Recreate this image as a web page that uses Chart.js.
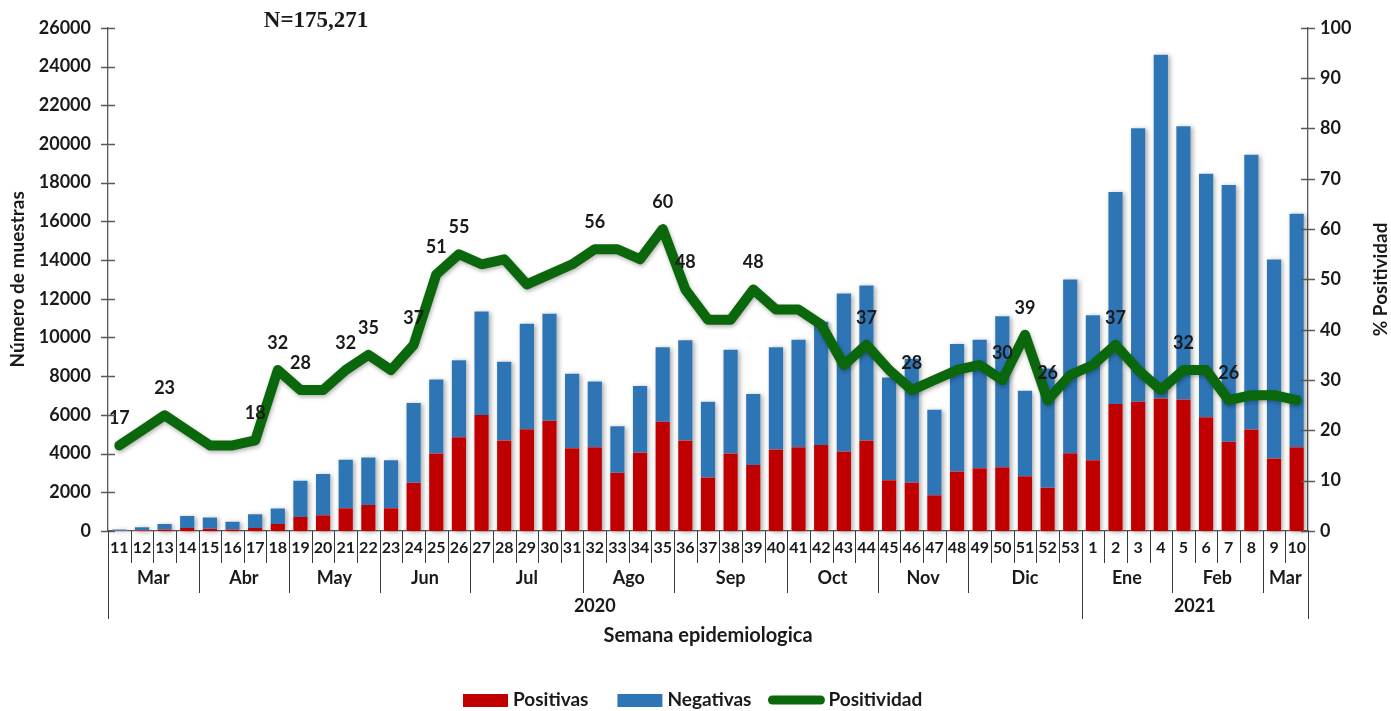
<!DOCTYPE html>
<html>
<head>
<meta charset="utf-8">
<script src="https://cdn.jsdelivr.net/npm/chart.js@4.4.1/dist/chart.umd.min.js"></script>
<style>
  html, body { margin: 0; padding: 0; background: #ffffff; }
  #wrap { width: 1391px; height: 711px; }
</style>
</head>
<body>
<div id="wrap"><canvas id="grafico" width="1391" height="711"></canvas></div>
<script>
// Semanas epidemiologicas (2020: 11-53, 2021: 1-10)
const semanas = ['11','12','13','14','15','16','17','18','19','20','21','22','23','24','25','26','27','28','29','30',
  '31','32','33','34','35','36','37','38','39','40','41','42','43','44','45','46','47','48','49','50','51','52','53',
  '1','2','3','4','5','6','7','8','9','10'];

const positivas = [14, 40, 83, 154, 119, 82, 160, 360, 720, 820, 1180, 1340, 1180, 2490, 4000, 4850, 6000, 4680, 5260, 5700,
  4270, 4330, 3010, 4040, 5650, 4680, 2770, 4000, 3410, 4210, 4330, 4450, 4110, 4680, 2620, 2500, 1850, 3080, 3240, 3290,
  2830, 2240, 4020, 3650, 6560, 6680, 6850, 6800, 5880, 4610, 5240, 3740, 4330];

const negativas = [66, 160, 277, 616, 581, 398, 710, 800, 1880, 2120, 2500, 2460, 2470, 4120, 3830, 3970, 5340, 4070, 5450, 5520,
  3850, 3390, 2400, 3450, 3840, 5170, 3910, 5370, 3670, 5280, 5550, 6360, 8160, 8000, 5310, 6400, 4420, 6580, 6640, 7810,
  4420, 6160, 8970, 7500, 10960, 14130, 17760, 14110, 12580, 13270, 14200, 10290, 12060];

const positividad = [17, 20, 23, 20, 17, 17, 18, 32, 28, 28, 32, 35, 32, 37, 51, 55, 53, 54, 49, 51,
  53, 56, 56, 54, 60, 48, 42, 42, 48, 44, 44, 41, 33, 37, 32, 28, 30, 32, 33, 30,
  39, 26, 31, 33, 37, 32, 28, 32, 32, 26, 27, 27, 26];

// indices de los puntos con etiqueta de % positividad
const conEtiqueta = [0, 2, 6, 7, 8, 10, 11, 13, 14, 15, 21, 24, 25, 28, 33, 35, 39, 40, 41, 44, 47, 49];

const meses = ['Mar','Abr','May','Jun','Jul','Ago','Sep','Oct','Nov','Dic','Ene','Feb','Mar'];
const semanasPorMes = [4, 4, 4, 4, 5, 4, 5, 4, 4, 5, 4, 4, 2];
const anios = ['2020', '2021'];
const semanasPorAnio = [43, 10];

const ticksIzq = [0, 2000, 4000, 6000, 8000, 10000, 12000, 14000, 16000, 18000, 20000, 22000, 24000, 26000];
const ticksDer = [0, 10, 20, 30, 40, 50, 60, 70, 80, 90, 100];

const ROJO = '#c00000';
const AZUL = '#2e75b6';
const VERDE = '#0b670b';
const TEXTO = '#1a1a1a';
const EJE = '#595959';
const FUENTE = 'Lato, "Open Sans", sans-serif';

// sombra gris detras de cada columna
const sombraBarras = {
  id: 'sombraBarras',
  beforeDatasetsDraw(chart) {
    const ctx = chart.ctx;
    const rojo = chart.getDatasetMeta(0).data;
    const azul = chart.getDatasetMeta(1).data;
    ctx.save();
    ctx.shadowColor = 'rgba(0,0,0,0.35)';
    ctx.shadowBlur = 5;
    ctx.shadowOffsetX = 2;
    ctx.shadowOffsetY = 1;
    ctx.fillStyle = '#ffffff';
    azul.forEach((b, i) => {
      const base = rojo[i].base;
      ctx.fillRect(b.x - b.width / 2, b.y, b.width, base - b.y);
    });
    ctx.restore();
  },
  beforeDatasetDraw(chart, args) {
    if (args.index !== 2) return;
    const ctx = chart.ctx;
    ctx.save();
    ctx.shadowColor = 'rgba(0,0,0,0.3)';
    ctx.shadowBlur = 4;
    ctx.shadowOffsetX = 1;
    ctx.shadowOffsetY = 2;
  },
  afterDatasetDraw(chart, args) {
    if (args.index !== 2) return;
    chart.ctx.restore();
  }
};

// etiquetas, ticks cruzados, eje de categorias en 3 niveles, titulos y leyenda
const decoracion = {
  id: 'decoracion',
  afterDatasetsDraw(chart) {
    const ctx = chart.ctx;
    const linea = chart.getDatasetMeta(2).data;
    ctx.save();
    ctx.fillStyle = TEXTO;
    ctx.font = 'bold 18px ' + FUENTE;
    ctx.textAlign = 'center';
    ctx.textBaseline = 'middle';
    conEtiqueta.forEach(i => {
      const p = linea[i];
      ctx.fillText(String(positividad[i]), p.x, p.y - 27);
    });
    ctx.restore();
  },
  afterDraw(chart) {
    const ctx = chart.ctx;
    const ca = chart.chartArea;
    const { x, y, y1 } = chart.scales;
    ctx.save();

    // ticks que cruzan los ejes
    ctx.strokeStyle = EJE;
    ctx.lineWidth = 1.3;
    ctx.beginPath();
    ticksIzq.forEach(v => {
      const py = Math.round(y.getPixelForValue(v)) + 0.5;
      ctx.moveTo(ca.left - 7, py); ctx.lineTo(ca.left + 7, py);
    });
    ticksDer.forEach(v => {
      const py = Math.round(y1.getPixelForValue(v)) + 0.5;
      ctx.moveTo(ca.right - 7, py); ctx.lineTo(ca.right + 7, py);
    });
    ctx.stroke();

    // separadores de categorias
    const paso = x.getPixelForValue(1) - x.getPixelForValue(0);
    const borde = i => x.getPixelForValue(0) - paso / 2 + i * paso;
    const b0 = ca.bottom;
    const finMes = new Set();
    let acc = 0;
    semanasPorMes.forEach(n => { acc += n; finMes.add(acc); });
    const finAnio = new Set([0]);
    acc = 0;
    semanasPorAnio.forEach(n => { acc += n; finAnio.add(acc); });

    ctx.strokeStyle = '#3a3a3a';
    ctx.lineWidth = 1;
    ctx.beginPath();
    for (let i = 0; i <= semanas.length; i++) {
      const px = Math.round(borde(i)) + 0.5;
      let largo = 32;
      if (finMes.has(i)) largo = 62;
      if (finAnio.has(i)) largo = 88;
      ctx.moveTo(px, b0);
      ctx.lineTo(px, b0 + largo);
    }
    ctx.stroke();

    ctx.fillStyle = TEXTO;
    ctx.textAlign = 'center';
    ctx.textBaseline = 'middle';

    // semanas
    ctx.font = 'bold 16px ' + FUENTE;
    semanas.forEach((s, i) => ctx.fillText(s, x.getPixelForValue(i), b0 + 17));

    // meses
    ctx.font = 'bold 18px ' + FUENTE;
    acc = 0;
    meses.forEach((m, k) => {
      const cx = (borde(acc) + borde(acc + semanasPorMes[k])) / 2;
      ctx.fillText(m, cx, b0 + 47);
      acc += semanasPorMes[k];
    });

    // anios
    acc = 0;
    anios.forEach((a, k) => {
      const cx = (borde(acc) + borde(acc + semanasPorAnio[k])) / 2;
      ctx.fillText(a, cx, b0 + 75);
      acc += semanasPorAnio[k];
    });

    // titulo eje x
    ctx.font = 'bold 20px ' + FUENTE;
    ctx.fillText('Semana epidemiologica', (ca.left + ca.right) / 2, b0 + 105);

    // titulos de ejes y (ambos leen de abajo hacia arriba)
    ctx.font = 'bold 19px ' + FUENTE;
    const cy = (ca.top + ca.bottom) / 2;
    ctx.save();
    ctx.translate(18, cy);
    ctx.rotate(-Math.PI / 2);
    ctx.fillText('Número de muestras', 0, 0);
    ctx.restore();
    ctx.save();
    ctx.translate(1381, cy);
    ctx.rotate(-Math.PI / 2);
    ctx.fillText('% Positividad', 0, 0);
    ctx.restore();

    // N total
    ctx.font = 'bold 23px "Liberation Serif", "Times New Roman", serif';
    ctx.fillText('N=175,271', 316, 21);

    // leyenda
    ctx.font = 'bold 19px ' + FUENTE;
    ctx.textAlign = 'left';
    const ly = 700;
    let lx = 463;
    const items = [
      { tipo: 'caja', color: ROJO, texto: 'Positivas' },
      { tipo: 'caja', color: AZUL, texto: 'Negativas' },
      { tipo: 'linea', color: VERDE, texto: 'Positividad' }
    ];
    items.forEach(it => {
      if (it.tipo === 'caja') {
        ctx.fillStyle = it.color;
        ctx.fillRect(lx, ly - 6, 45, 13);
        lx += 50;
      } else {
        lx -= 13;
        ctx.strokeStyle = it.color;
        ctx.lineWidth = 9;
        ctx.lineCap = 'round';
        ctx.beginPath();
        ctx.moveTo(lx + 5, ly);
        ctx.lineTo(lx + 53, ly);
        ctx.stroke();
        lx += 61;
      }
      ctx.fillStyle = TEXTO;
      ctx.fillText(it.texto, lx, ly);
      lx += ctx.measureText(it.texto).width + 29;
    });

    ctx.restore();
  }
};

const tickFont = { family: FUENTE, weight: 'bold', size: 18 };

new Chart(document.getElementById('grafico'), {
  type: 'bar',
  data: {
    labels: semanas,
    datasets: [
      {
        label: 'Positivas',
        data: positivas,
        backgroundColor: ROJO,
        stack: 'muestras',
        yAxisID: 'y',
        order: 1,
        barPercentage: 0.63,
        categoryPercentage: 1
      },
      {
        label: 'Negativas',
        data: negativas,
        backgroundColor: AZUL,
        stack: 'muestras',
        yAxisID: 'y',
        order: 1,
        barPercentage: 0.63,
        categoryPercentage: 1
      },
      {
        type: 'line',
        label: 'Positividad',
        data: positividad,
        yAxisID: 'y1',
        borderColor: VERDE,
        backgroundColor: VERDE,
        borderWidth: 10,
        borderJoinStyle: 'round',
        borderCapStyle: 'round',
        pointRadius: 0,
        tension: 0,
        order: 0
      }
    ]
  },
  options: {
    responsive: false,
    animation: false,
    layout: { padding: { top: 25, bottom: 0, left: 0, right: 0 } },
    plugins: {
      legend: { display: false },
      tooltip: { enabled: false }
    },
    scales: {
      x: {
        stacked: true,
        ticks: { display: false },
        grid: { display: false, drawTicks: false },
        border: { display: true, color: EJE, width: 1.3 },
        afterFit: s => { s.height = 180; }
      },
      y: {
        stacked: true,
        position: 'left',
        min: 0,
        max: 26000,
        afterBuildTicks: s => { s.ticks = ticksIzq.map(v => ({ value: v })); },
        ticks: { padding: 17, color: TEXTO, font: tickFont, callback: v => String(v) },
        grid: { display: false, drawTicks: false },
        border: { display: true, color: EJE, width: 1.3 },
        afterFit: s => { s.width = 108; }
      },
      y1: {
        position: 'right',
        min: 0,
        max: 100,
        afterBuildTicks: s => { s.ticks = ticksDer.map(v => ({ value: v })); },
        ticks: { padding: 12, color: TEXTO, font: tickFont, callback: v => String(v) },
        grid: { display: false, drawTicks: false },
        border: { display: true, color: EJE, width: 1.3 },
        afterFit: s => { s.width = 83; }
      }
    }
  },
  plugins: [sombraBarras, decoracion]
});
</script>
</body>
</html>
